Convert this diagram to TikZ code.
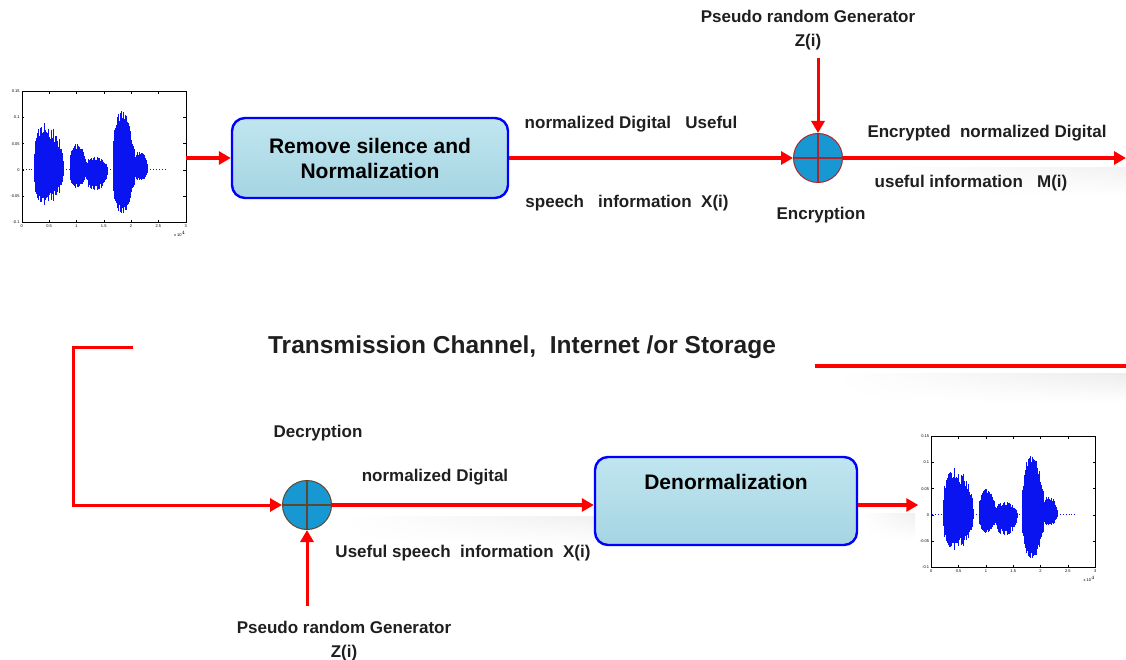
\documentclass[tikz,border=0pt]{standalone}
\usepackage{fontspec}
\setmainfont{Liberation Sans}
\usetikzlibrary{arrows.meta,positioning,fadings}

\definecolor{aqua}{RGB}{192,230,240}
\definecolor{aquadark}{RGB}{165,212,226}
\definecolor{sumblue}{RGB}{24,152,210}
\definecolor{encrim}{RGB}{170,40,45}
\definecolor{decrim}{RGB}{92,72,48}
\definecolor{wavecol}{RGB}{10,20,240}

\tikzfading[name=softsides, left color=transparent!100, right color=transparent!0]

% axes, ticks and speech trace inside a plot frame node
\newcommand{\speechwave}[1]{%
  \begin{scope}[shift={(#1.south west)}, font=\fontsize{4}{4}\selectfont]
    \foreach \k/\t in {0/0,1/0.5,2/1,3/1.5,4/2,5/2.5,6/3} {
      \draw[line width=.4pt] (\k*27.33,0) -- ++(0,-2.5) (\k*27.33,-131) -- ++(0,2.5);
      \node[inner sep=0, anchor=north] (#1x\k) at (\k*27.33,2) {\t};
    }
    \foreach \j/\t in {0/-0.1,1/-0.05,2/0,3/0.05,4/0.1,5/0.15} {
      \draw[line width=.4pt] (0,-\j*26.2) -- ++(2.5,0) (164,-\j*26.2) -- ++(-2.5,0);
      \node[inner sep=0, anchor=east] (#1y\j) at (-2,-\j*26.2) {\t};
    }
    \node[inner sep=0] (#1exp) at (158,12) {x 10$^4$};
    \draw[wavecol, line width=.9pt, dotted] (1,-52.4) -- (145,-52.4);
    \pgfmathsetseed{42}
    \foreach \s/\w/\u/\d in {12/30/49/37, 48/17/26/18, 64/22/13/21, 91/22/60/44, 112/14/19/11} {
      \foreach \t in {0,0.016,...,1} {
        \pgfmathsetmacro\e{pow(abs(sin(180*pow(\t,0.75))),0.45)*(0.6+0.4*rnd)}
        \draw[wavecol, line width=.7pt] (\s+\w*\t,-52.4-\u*\e) -- (\s+\w*\t,-52.4+\d*\e);
      }
    }
  \end{scope}}

\begin{document}
\begin{tikzpicture}[x=1pt, y=-1pt, >={Triangle[length=12pt,width=13pt]},
  flow/.style={draw=red, line width=3.5pt, ->},
  wire/.style={draw=red, line width=3.5pt},
  procbox/.style={draw=blue, line width=2.4pt, rounded corners=13pt, top color=aqua, bottom color=aquadark,
    align=center, inner sep=0, font=\fontsize{21}{25}\selectfont\bfseries},
  sumnode/.style={circle, draw=#1, line width=1pt, fill=sumblue, minimum size=49pt, inner sep=0,
    path picture={\draw[#1, line width=1.3pt] (path picture bounding box.north) -- (path picture bounding box.south)
      (path picture bounding box.west) -- (path picture bounding box.east);}},
  plotframe/.style={draw, line width=.5pt, inner sep=0, minimum width=164pt, minimum height=131pt},
  lbl/.style={font=\fontsize{17}{24}\selectfont\bfseries, text=black!88, inner sep=0, align=center}]

	\useasboundingbox (0,0) rectangle (1126,660);

	% encryption chain
	\node[plotframe] (plotin) at (104,156.5) {};
	\speechwave{plotin}
	\node[procbox, minimum width=276pt, minimum height=80pt] (rsn) at (370,158) {Remove silence and\\Normalization};
	\node[sumnode=encrim] (enc) at (818,158) {};
	\node[lbl] (zgen) at (808,30) {Pseudo random Generator\\Z(i)};
	\coordinate (zin) at (818,58);
	\coordinate (mout) at (1126,158);
	\shade[top color=gray!10, bottom color=white, path fading=softsides] (860,168) rectangle (1126,196);
	\draw[flow] (plotin.east |- rsn.west) -- (rsn.west);
	\draw[flow] (rsn.east) -- (enc.west);
	\draw[flow, line width=3pt] (zin) -- (enc.north);
	\draw[flow] (enc.east) -- (mout);
	\node[lbl] (xtop) at (631,124) {normalized Digital\ \ \ Useful};
	\node[lbl] (xbot) at (627,203) {speech\ \ \ information\ \ X(i)};
	\node[lbl] (mtop) at (987,133) {Encrypted\ \ normalized Digital};
	\node[lbl] (mbot) at (971,183) {useful information\ \ \ M(i)};
	\node[lbl] (enclbl) at (821,215) {Encryption};

	% channel
	\node[font=\fontsize{24.5}{28}\selectfont\bfseries, text=black!88, inner sep=0] (chan) at (522,347) {Transmission Channel,\ \ Internet /or Storage};
	\shade[top color=gray!14, bottom color=white, path fading=softsides] (835,374) rectangle (1126,402);
	\coordinate (chanR) at (815,366);
	\coordinate (chanE) at (1126,366);
	\draw[wire] (chanR) -- (chanE);
	\coordinate (chanL) at (133,347);
	\coordinate (chanC) at (73,347);

	% decryption chain
	\shade[top color=gray!12, bottom color=white, path fading=softsides] (340,516) rectangle (600,545);
	\shade[top color=gray!12, bottom color=white, path fading=softsides] (860,513) rectangle (915,540);
	\node[sumnode=decrim] (dec) at (307,505) {};
	\node[procbox, minimum width=262pt, minimum height=88pt, text depth=38pt] (den) at (726,501) {Denormalization};
	\node[plotframe] (plotout) at (1013.5,501.5) {};
	\speechwave{plotout}
	\node[lbl] (zgen2) at (344,641) {Pseudo random Generator\\Z(i)};
	\coordinate (zin2) at (307,606);
	\draw[flow, line width=3pt] (chanL) -- (chanC) |- (dec.west);
	\draw[flow] (dec.east) -- (dec.east -| den.west);
	\draw[flow, shorten >=13pt] (den.east |- dec.east) -- (plotout.west |- dec.east);
	\draw[flow, line width=3pt] (zin2) -- (dec.south);
	\node[lbl] (declbl) at (318,433) {Decryption};
	\node[lbl] (ntop) at (435,477) {normalized Digital};
	\node[lbl] (nbot) at (463,553) {Useful speech\ \ information\ \ X(i)};
\end{tikzpicture}
\end{document}
